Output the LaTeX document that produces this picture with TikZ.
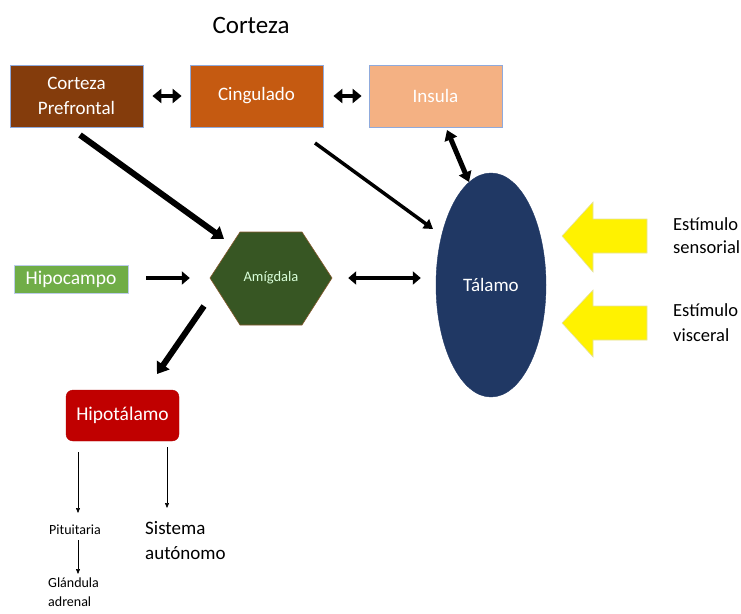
\documentclass[tikz,border=0pt]{standalone}
\usepackage{fontspec}
\setmainfont{Carlito}
\usetikzlibrary{arrows.meta,calc}
\definecolor{cpbrown}{HTML}{843C0C}
\definecolor{cingor}{HTML}{C55A11}
\definecolor{inspeach}{HTML}{F4B183}
\definecolor{amygreen}{HTML}{375623}
\definecolor{hipgreen}{HTML}{70AD47}
\definecolor{talnavy}{HTML}{203864}
\definecolor{hypred}{HTML}{C00000}
\definecolor{boxedge}{HTML}{8FAADC}
\tikzset{
  topbox/.style={draw=boxedge, line width=0.8pt, minimum width=133pt, minimum height=62pt, inner sep=0pt, text=white, font=\fontsize{19}{25}\selectfont, align=center},
  bigarrow/.style={-{Triangle[length=11pt,width=15pt]}, line width=6pt},
  medarrow/.style={-{Triangle[length=9pt,width=11pt]}, line width=3.5pt},
  dblarrow/.style={{Triangle[length=9pt,width=14pt]}-{Triangle[length=9pt,width=14pt]}, line width=4.5pt},
  thinarrow/.style={-{Triangle[length=5pt,width=4pt]}, line width=0.6pt},
  yarrow/.style={fill=yellow, draw=yellow!70!black!40!white, line width=0.6pt},
  lbl/.style={align=left, inner sep=0pt, anchor=west},
}
\begin{document}
\begin{tikzpicture}[x=1pt,y=-1pt]
\useasboundingbox (0,0) rectangle (741,613);
% title
\node[font=\fontsize{25}{30}\selectfont] (title) at (251,25) {Corteza};
% top boxes
\node[topbox, fill=cpbrown] (cp) at (76.5,96) {Corteza\\Prefrontal};
\node[topbox, fill=cingor] (cing) at (256.5,96) {Cingulado};
\node[topbox, fill=inspeach] (ins) at (435.5,96) {Insula};
% amygdala hexagon
\draw[draw=brown!70!black, fill=amygreen, line width=0.6pt] (210,278) -- (240,232) -- (302,232) -- (332,278) -- (302,325) -- (240,325) -- cycle;
\node[minimum width=122pt, minimum height=93pt, inner sep=0pt, text=white!85!green, font=\fontsize{14.5}{17}\selectfont] (amy) at (271,278) {Amígdala};
% hipocampo
\node[draw=boxedge!60!white, line width=0.8pt, fill=hipgreen, minimum width=114pt, minimum height=28pt, inner sep=0pt, text=white, font=\fontsize{19.5}{22}\selectfont] (hip) at (71,279) {Hipocampo};
% talamo
\draw[fill=talnavy, draw=talnavy] (491,285) ellipse [x radius=55pt, y radius=112pt];
\node[minimum width=110pt, minimum height=224pt, inner sep=0pt, text=white, font=\fontsize{19}{22}\selectfont] (tal) at (491,285) {Tálamo};
% hipotalamo
\node[draw=red!70!black, fill=hypred, rounded corners=7pt, minimum width=113pt, minimum height=51pt, inner sep=0pt, text=white, font=\fontsize{19.5}{22}\selectfont] (hyp) at (122.5,415.5) {Hipotálamo};
% lower texts
\node[font=\fontsize{14}{16}\selectfont, inner sep=0pt] (pit) at (75,530) {Pituitaria};
\node[lbl, font=\fontsize{14}{19}\selectfont] (gla) at (48,592) {Glándula\\adrenal};
\node[lbl, font=\fontsize{19}{25}\selectfont] (sis) at (145,541) {Sistema\\autónomo};
% stimulus texts
\node[lbl, font=\fontsize{18.5}{23}\selectfont] (es) at (673,236) {Estímulo\\sensorial};
\node[lbl, font=\fontsize{18.5}{25}\selectfont] (ev) at (673,323) {Estímulo\\visceral};
% yellow arrows
\draw[yarrow] (562,236) -- (593,202) -- (593,219) -- (647,219) -- (647,253) -- (593,253) -- (593,272) -- cycle;
\draw[yarrow] (562,323) -- (593,290) -- (593,306) -- (647,306) -- (647,340) -- (593,340) -- (593,357) -- cycle;
% connectors
\draw[dblarrow] ($(cp.east)+(9,0)$) -- ($(cing.west)+(-8,0)$);
\draw[dblarrow] ($(cing.east)+(10,0)$) -- ($(ins.west)+(-7,0)$);
\coordinate (a1s) at (80,135);
\coordinate (a1e) at (224,239);
\draw[bigarrow] (a1s) -- (a1e);
\coordinate (a2s) at (315,143);
\coordinate (a2e) at (433,229);
\draw[medarrow] (a2s) -- (a2e);
\coordinate (a3s) at (447,130);
\coordinate (a3e) at (469,182);
\draw[{Triangle[length=10pt,width=13pt]}-{Triangle[length=10pt,width=13pt]}, line width=5pt] (a3s) -- (a3e);
\draw[{Triangle[length=8pt,width=13pt]}-{Triangle[length=8pt,width=13pt]}, line width=4.5pt] ($(amy.east)+(16,0)$) -- ($(tal.west)+(-15,-7)$);
\draw[-{Triangle[length=8pt,width=13pt]}, line width=4.5pt] ($(hip.east)+(18,-1)$) -- ($(amy.west)+(-20,0)$);
\coordinate (a4s) at (204,306);
\coordinate (a4e) at (157,374);
\draw[bigarrow] (a4s) -- (a4e);
\draw[thinarrow] (78,452) -- (78,513);
\draw[thinarrow] (167,447) -- (167,508);
\draw[thinarrow] (78,540) -- (78,574);
\end{tikzpicture}
\end{document}
